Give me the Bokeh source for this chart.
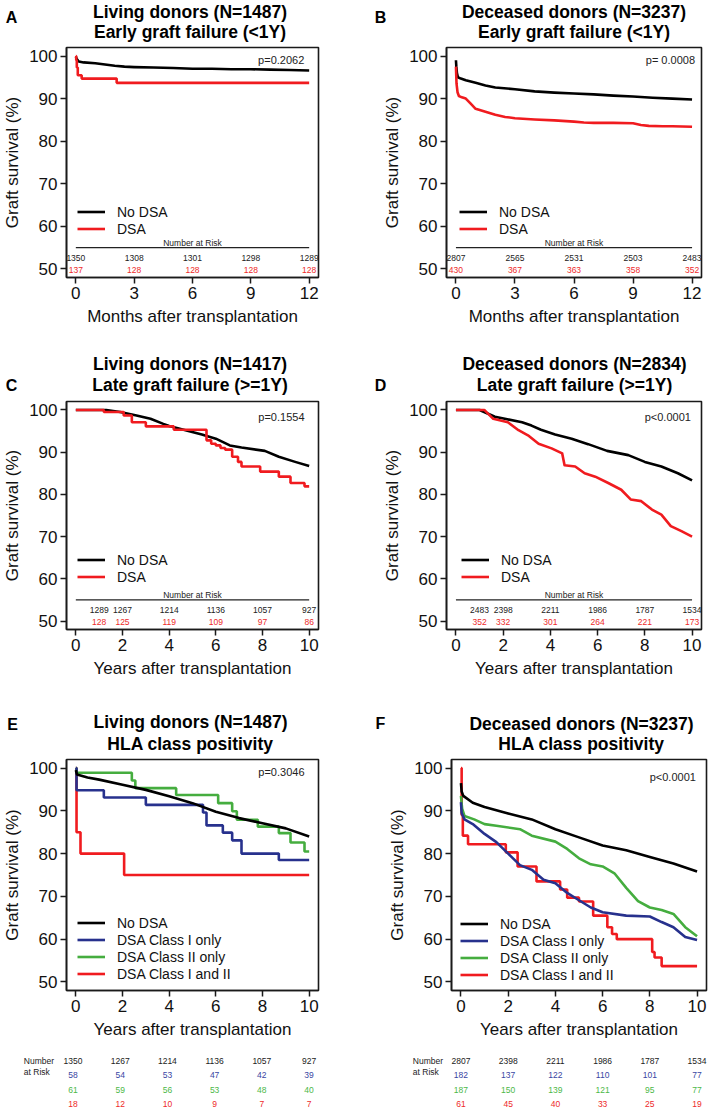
from bokeh.plotting import figure
from bokeh.models import Legend, LegendItem, FixedTicker, Range1d
from bokeh.layouts import column, row
from bokeh.embed import file_html
from bokeh.resources import INLINE
from bokeh.core.properties import value

FONT = "Liberation Sans"
C_BLACK = "#000000"
C_RED = "#f01b1f"
C_BLUE = "#27318d"
C_GREEN = "#45ad3f"
R_DARK = "#222222"
R_BLUE = "#3946a3"
R_GREEN = "#4cb848"
R_RED = "#ee2a2a"

# ---------------- data ----------------
Y_TICKS = [50, 60, 70, 80, 90, 100]
MONTHS = [0, 3, 6, 9, 12]
YEARS = [0, 2, 4, 6, 8, 10]

# Panel A: living donors, early graft failure (months)
a_nodsa_t = [0, 0.05, 0.15, 0.4, 1.0, 1.5, 2.0, 2.5, 3.0, 4.0, 5.0, 6.0, 7.0, 8.0, 9.0, 10.0, 11.0, 12.0]
a_nodsa_s = [99.8, 99.3, 98.7, 98.5, 98.3, 98.0, 97.7, 97.5, 97.4, 97.3, 97.2, 97.0, 97.0, 96.9, 96.9, 96.8, 96.7, 96.6]
a_dsa_t = [0, 0.02, 0.05, 0.1, 0.3, 2.1, 12.0]
a_dsa_s = [100, 99.0, 97.3, 95.5, 94.7, 93.7, 93.7]
a_risk_t = [0, 3, 6, 9, 12]
a_risk_nodsa = [1350, 1308, 1301, 1298, 1289]
a_risk_dsa = [137, 128, 128, 128, 128]

# Panel B: deceased donors, early graft failure (months)
b_nodsa_t = [0, 0.02, 0.05, 0.1, 0.25, 0.5, 1.0, 1.5, 2.0, 3.0, 4.0, 5.0, 6.0, 7.0, 8.0, 9.0, 10.0, 11.0, 12.0]
b_nodsa_s = [99.0, 97.5, 96.0, 95.0, 94.7, 94.3, 93.7, 93.1, 92.6, 92.2, 91.7, 91.4, 91.2, 91.0, 90.7, 90.5, 90.2, 90.0, 89.8]
b_dsa_t = [0, 0.03, 0.08, 0.15, 0.3, 0.5, 0.75, 1.0, 1.5, 2.0, 2.5, 3.0, 4.0, 5.0, 6.0, 6.5, 7.0, 8.0, 9.0, 9.4, 9.8, 10.5, 11.0, 12.0]
b_dsa_s = [97.5, 93.5, 91.5, 90.6, 90.3, 90.0, 88.8, 87.6, 86.9, 86.2, 85.7, 85.4, 85.1, 84.9, 84.6, 84.4, 84.3, 84.3, 84.2, 83.8, 83.6, 83.5, 83.5, 83.4]
b_risk_t = [0, 3, 6, 9, 12]
b_risk_nodsa = [2807, 2565, 2531, 2503, 2483]
b_risk_dsa = [430, 367, 363, 358, 352]

# Panel C: living donors, late graft failure (years)
c_nodsa_t = [0, 1.3, 1.9, 2.6, 3.2, 3.75, 4.0, 4.7, 5.4, 6.0, 6.6, 7.1, 8.1, 8.7, 9.4, 10.0]
c_nodsa_s = [100, 100, 99.5, 98.7, 97.9, 96.7, 96.2, 95.2, 94.2, 93.2, 91.6, 91.1, 90.3, 88.9, 87.7, 86.7]
c_dsa_t = [0, 1.2, 2.05, 2.4, 3.0, 4.2, 5.6, 5.8, 6.0, 6.2, 6.4, 6.7, 6.95, 7.1, 7.9, 8.7, 9.2, 9.8, 10.0]
c_dsa_s = [100, 99.5, 98.7, 97.1, 96.1, 95.3, 92.8, 92.0, 91.6, 91.0, 90.6, 88.9, 87.7, 86.6, 85.4, 84.2, 82.7, 81.9, 81.9]
c_risk_t = [1, 2, 4, 6, 8, 10]
c_risk_nodsa = [1289, 1267, 1214, 1136, 1057, 927]
c_risk_dsa = [128, 125, 119, 109, 97, 86]

# Panel D: deceased donors, late graft failure (years)
d_nodsa_t = [0, 1.0, 1.65, 2.07, 2.8, 3.2, 3.6, 4.2, 4.9, 5.6, 6.4, 7.3, 8.0, 8.7, 9.4, 10.0]
d_nodsa_s = [100, 100, 98.4, 97.9, 97.1, 96.3, 95.3, 94.2, 93.2, 91.9, 90.3, 89.3, 87.7, 86.6, 85.0, 83.3]
d_dsa_t = [0, 1.2, 1.58, 2.2, 2.65, 3.05, 3.5, 4.05, 4.5, 4.6, 5.05, 5.45, 5.9, 6.45, 7.0, 7.4, 7.85, 8.3, 8.7, 9.1, 9.55, 10.0]
d_dsa_s = [100, 100, 97.9, 97.1, 95.2, 94.0, 92.0, 90.9, 89.7, 86.9, 86.6, 85.0, 84.2, 82.7, 81.1, 78.8, 78.4, 76.4, 75.2, 72.5, 71.3, 70.0]
d_risk_t = [1, 2, 4, 6, 8, 10]
d_risk_nodsa = [2483, 2398, 2211, 1986, 1787, 1534]
d_risk_dsa = [352, 332, 301, 264, 221, 173]

# Panel E: living donors, HLA class positivity (years)
e_nodsa_t = [0, 0.05, 0.5, 1, 2, 3, 4, 5, 6, 7, 8, 9, 10]
e_nodsa_s = [99.5, 98.5, 97.8, 97.3, 96.1, 94.9, 93.4, 91.8, 89.8, 88.3, 87.1, 85.9, 84.0]
e_c1_t = [0, 0.03, 1.2, 3.0, 5.45, 5.6, 6.3, 6.7, 7.1, 8.7, 10.0]
e_c1_s = [100, 94.8, 93.1, 91.4, 89.6, 86.6, 84.9, 83.1, 80.0, 78.5, 78.5]
e_c2_t = [0, 0.03, 2.4, 2.55, 4.3, 6.1, 6.7, 6.9, 7.8, 8.7, 9.2, 9.8, 10.0]
e_c2_s = [100, 98.9, 97.1, 95.3, 93.7, 91.8, 89.9, 87.9, 86.3, 84.8, 82.6, 80.5, 80.5]
e_c12_t = [0, 0.03, 0.2, 2.07, 10.0]
e_c12_s = [100, 85.0, 80.0, 75.0, 75.0]
e_risk_t = [0, 2, 4, 6, 8, 10]
e_risk_nodsa = [1350, 1267, 1214, 1136, 1057, 927]
e_risk_c1 = [58, 54, 53, 47, 42, 39]
e_risk_c2 = [61, 59, 56, 53, 48, 40]
e_risk_c12 = [18, 12, 10, 9, 7, 7]

# Panel F: deceased donors, HLA class positivity (years)
f_nodsa_t = [0, 0.03, 0.1, 0.5, 1, 2, 3, 4, 5, 6, 7, 8, 9, 10]
f_nodsa_s = [96.5, 94.5, 93.5, 91.9, 90.9, 89.4, 88.0, 85.7, 83.8, 81.9, 80.8, 79.2, 77.7, 75.8]
f_c1_t = [0, 0.03, 0.15, 0.5, 1, 1.5, 2, 2.5, 3, 3.5, 4, 4.5, 5, 5.5, 6, 7, 8, 8.5, 9, 9.5, 10]
f_c1_s = [92.0, 89.5, 88.0, 86.9, 84.6, 82.7, 80.0, 77.3, 76.2, 73.9, 73.1, 70.8, 69.1, 67.4, 66.3, 65.5, 65.3, 64.0, 62.8, 60.5, 59.8]
f_c2_t = [0, 0.05, 0.15, 0.56, 1, 1.5, 2.5, 3, 4, 4.5, 5, 5.5, 6, 6.5, 7, 7.5, 8, 8.5, 9, 9.5, 10]
f_c2_s = [93.5, 90.5, 88.8, 88.0, 86.9, 86.5, 85.7, 84.2, 82.8, 81.1, 78.9, 77.5, 77.0, 75.4, 72.0, 68.9, 67.4, 66.8, 65.9, 62.8, 60.7]
f_c12_t = [0, 0.03, 0.08, 0.3, 1.9, 2.4, 3.2, 4.2, 4.5, 5.0, 5.6, 6.2, 6.4, 6.6, 8.1, 8.2, 8.5, 10.0]
f_c12_s = [100, 89.0, 84.2, 82.2, 80.3, 77.0, 73.5, 71.6, 69.7, 68.8, 65.5, 62.8, 61.2, 60.0, 57.0, 55.7, 53.7, 53.7]
f_risk_t = [0, 2, 4, 6, 8, 10]
f_risk_nodsa = [2807, 2398, 2211, 1986, 1787, 1534]
f_risk_c1 = [182, 137, 122, 110, 101, 77]
f_risk_c2 = [187, 150, 139, 121, 95, 77]
f_risk_c12 = [61, 45, 40, 33, 25, 19]

# ---------------- layout geometry (pixels) ----------------
FW = 255
Y0, Y1 = 48, 102


def txt(p, x, y, s, size, color="#111111", bold=False, align="center"):
    p.text(x=[x], y=[y], text=[s], text_font=value(FONT), text_font_size=size,
           text_font_style="bold" if bold else "normal", text_color=color,
           text_align=align, text_baseline="middle")


def blank_fig(width, height, xr, yr):
    p = figure(width=width, height=height, output_backend="svg", toolbar_location=None,
               x_range=Range1d(*xr), y_range=Range1d(*yr),
               x_axis_type=None, y_axis_type=None,
               min_border_left=0, min_border_right=0, min_border_top=0, min_border_bottom=0)
    p.grid.visible = False
    p.outline_line_color = None
    p.background_fill_color = "white"
    p.border_fill_color = "white"
    return p


def header(width, height, letter, lxy, lines, tx, tys):
    # pixel coordinates measured from the top-left corner of the header strip
    h = blank_fig(width, height, (0, width), (height, 0))
    txt(h, lxy[0], lxy[1], letter, "16px", color="#000000", bold=True)
    for line, ty in zip(lines, tys):
        txt(h, tx, ty, line, "17.5px", color="#000000", bold=True)
    return h


def make_fig(width, height, bl, bt, fh, xr, xticks, xlabel):
    p = figure(width=width, height=height, output_backend="svg", toolbar_location=None,
               x_range=Range1d(*xr), y_range=Range1d(Y0, Y1),
               min_border_left=bl, min_border_right=width - bl - FW,
               min_border_top=bt, min_border_bottom=height - bt - fh)
    p.grid.visible = False
    p.outline_line_color = "#1a1a1a"
    p.outline_line_width = 1.6
    p.background_fill_color = "white"
    p.border_fill_color = "white"
    for ax in (p.xaxis[0], p.yaxis[0]):
        ax.axis_line_color = "#1a1a1a"
        ax.axis_line_width = 1.6
        ax.major_tick_line_color = "#1a1a1a"
        ax.major_tick_line_width = 1.5
        ax.major_tick_in = 0
        ax.major_tick_out = 6
        ax.minor_tick_line_color = None
        ax.major_label_text_font = FONT
        ax.major_label_text_font_size = "17px"
        ax.major_label_text_color = "#111111"
        ax.axis_label_text_font = FONT
        ax.axis_label_text_font_size = "17px"
        ax.axis_label_text_font_style = "normal"
        ax.axis_label_text_color = "#111111"
    p.xaxis.ticker = FixedTicker(ticks=xticks)
    p.yaxis.ticker = FixedTicker(ticks=Y_TICKS)
    p.xaxis.major_label_standoff = 3
    p.xaxis.axis_label_standoff = 5
    p.xaxis.axis_label = xlabel
    p.yaxis.axis_label = "Graft survival (%)"
    p.yaxis.major_label_standoff = 3
    p.yaxis.axis_label_standoff = 4
    return p


def add_legend(p, items, loc):
    leg = Legend(items=[LegendItem(label=lab, renderers=[r]) for lab, r in items],
                 location=loc, orientation="vertical",
                 glyph_width=28, glyph_height=17, label_height=17, label_width=10,
                 label_standoff=12, spacing=0, padding=0, margin=0,
                 background_fill_alpha=0, border_line_alpha=0,
                 label_text_font=FONT, label_text_font_size="14px",
                 label_text_color="#111111")
    p.add_layout(leg)


def curve(p, t, s, color, step):
    if step:
        return p.step(t, s, mode="after", line_color=color, line_width=2.6)
    return p.line(t, s, line_color=color, line_width=2.6, line_join="round")


def inner_risk(p, xticks, times, n_nodsa, n_dsa):
    p.line([xticks[0], xticks[-1]], [55.0, 55.0], line_color="#222222", line_width=1.3)
    txt(p, (xticks[0] + xticks[-1]) / 2, 56.2, "Number at Risk", "8.5px", color=R_DARK)
    p.text(x=times, y=[52.6] * len(times), text=[str(v) for v in n_nodsa],
           text_font=value(FONT), text_font_size="8.5px", text_color=R_DARK,
           text_align="center", text_baseline="middle")
    p.text(x=times, y=[49.7] * len(times), text=[str(v) for v in n_dsa],
           text_font=value(FONT), text_font_size="8.5px", text_color=R_RED,
           text_align="center", text_baseline="middle")


def outer_risk(width, height, bl, xr, times, rows, colors, head_x, row_y):
    # strip below the panel; its x axis continues the panel's data range
    upp = (xr[1] - xr[0]) / FW
    br = width - bl - FW
    rx = (xr[0] - bl * upp, xr[1] + br * upp)
    r = blank_fig(width, height, rx, (height, 0))
    hx = rx[0] + head_x * upp
    txt(r, hx, row_y[0], "Number", "8.5px", color=R_DARK, align="left")
    txt(r, hx, row_y[0] + 11, "at Risk", "8.5px", color=R_DARK, align="left")
    for vals, col, ry in zip(rows, colors, row_y):
        r.text(x=times, y=[ry] * len(times), text=[str(v) for v in vals],
               text_font=value(FONT), text_font_size="8.5px", text_color=col,
               text_align="center", text_baseline="middle")
    return r


XR_M = (-0.48, 12.48)
XR_Y = (-0.4, 10.4)

# ---------------- row 1: A, B ----------------
hA = header(354, 44, "A", (11, 16.7), ["Living donors (N=1487)", "Early graft failure (<1Y)"], 189.5, [11.7, 31.7])
hB = header(355, 44, "B", (26, 16.7), ["Deceased donors (N=3237)", "Early graft failure (<1Y)"], 219.5, [11.7, 31.7])

pA = make_fig(354, 296, 63, 3, 230, XR_M, MONTHS, "Months after transplantation")
rA1 = curve(pA, a_nodsa_t, a_nodsa_s, C_BLACK, False)
rA2 = curve(pA, a_dsa_t, a_dsa_s, C_RED, True)
inner_risk(pA, MONTHS, a_risk_t, a_risk_nodsa, a_risk_dsa)
add_legend(pA, [("No DSA", rA1), ("DSA", rA2)], (11, 40))
txt(pA, 11.75, 99.1, "p=0.2062", "11px", color=R_DARK, align="right")

pB = make_fig(355, 296, 92, 3, 230, XR_M, MONTHS, "Months after transplantation")
rB1 = curve(pB, b_nodsa_t, b_nodsa_s, C_BLACK, False)
rB2 = curve(pB, b_dsa_t, b_dsa_s, C_RED, False)
inner_risk(pB, MONTHS, b_risk_t, b_risk_nodsa, b_risk_dsa)
add_legend(pB, [("No DSA", rB1), ("DSA", rB2)], (13, 40))
txt(pB, 12.15, 99.1, "p= 0.0008", "11px", color=R_DARK, align="right")

# ---------------- row 2: C, D ----------------
hC = header(354, 57, "C", (11, 45), ["Living donors (N=1417)", "Late graft failure (>=1Y)"], 189.5, [23.3, 44])
hD = header(355, 57, "D", (26, 45), ["Deceased donors (N=2834)", "Late graft failure (>=1Y)"], 220, [23.3, 44])

pC = make_fig(354, 283, 63, 4, 230, XR_Y, YEARS, "Years after transplantation")
rC1 = curve(pC, c_nodsa_t, c_nodsa_s, C_BLACK, False)
rC2 = curve(pC, c_dsa_t, c_dsa_s, C_RED, True)
inner_risk(pC, YEARS, c_risk_t, c_risk_nodsa, c_risk_dsa)
add_legend(pC, [("No DSA", rC1), ("DSA", rC2)], (11, 44))
txt(pC, 9.8, 98.3, "p=0.1554", "11px", color=R_DARK, align="right")

pD = make_fig(355, 283, 92, 4, 230, XR_Y, YEARS, "Years after transplantation")
rD1 = curve(pD, d_nodsa_t, d_nodsa_s, C_BLACK, False)
rD2 = curve(pD, d_dsa_t, d_dsa_s, C_RED, False)
inner_risk(pD, YEARS, d_risk_t, d_risk_nodsa, d_risk_dsa)
add_legend(pD, [("No DSA", rD1), ("DSA", rD2)], (15, 44))
txt(pD, 9.95, 98.3, "p<0.0001", "11px", color=R_DARK, align="right")

# ---------------- row 3: E, F ----------------
hE = header(354, 75, "E", (12, 43.5), ["Living donors (N=1487)", "HLA class positivity"], 190, [41.7, 63])
hF = header(355, 75, "F", (26, 43), ["Deceased donors (N=3237)", "HLA class positivity"], 227, [43.3, 63.7])

pE = make_fig(354, 290, 63, 4, 231, XR_Y, YEARS, "Years after transplantation")
rE4 = curve(pE, e_c12_t, e_c12_s, C_RED, True)
rE3 = curve(pE, e_c2_t, e_c2_s, C_GREEN, True)
rE2 = curve(pE, e_c1_t, e_c1_s, C_BLUE, True)
rE1 = curve(pE, e_nodsa_t, e_nodsa_s, C_BLACK, False)
add_legend(pE, [("No DSA", rE1), ("DSA Class I only", rE2),
                ("DSA Class II only", rE3), ("DSA Class I and II", rE4)], (11, 8))
txt(pE, 9.8, 99.0, "p=0.3046", "11px", color=R_DARK, align="right")

pF = make_fig(355, 290, 97, 1, 236, XR_Y, YEARS, "Years after transplantation")
rF4 = curve(pF, f_c12_t, f_c12_s, C_RED, True)
rF3 = curve(pF, f_c2_t, f_c2_s, C_GREEN, False)
rF2 = curve(pF, f_c1_t, f_c1_s, C_BLUE, False)
rF1 = curve(pF, f_nodsa_t, f_nodsa_s, C_BLACK, False)
add_legend(pF, [("No DSA", rF1), ("DSA Class I only", rF2),
                ("DSA Class II only", rF3), ("DSA Class I and II", rF4)], (9, 7))
txt(pF, 9.95, 98.0, "p<0.0001", "11px", color=R_DARK, align="right")

RISK_ROWS_Y = [15, 29.3, 44, 58.5]
kE = outer_risk(354, 64, 63, XR_Y, e_risk_t, [e_risk_nodsa, e_risk_c1, e_risk_c2, e_risk_c12],
                [R_DARK, R_BLUE, R_GREEN, R_RED], 23.3, RISK_ROWS_Y)
kF = outer_risk(355, 64, 97, XR_Y, f_risk_t, [f_risk_nodsa, f_risk_c1, f_risk_c2, f_risk_c12],
                [R_DARK, R_BLUE, R_GREEN, R_RED], 58.3, RISK_ROWS_Y)

layout = column(
    row(hA, hB, spacing=0), row(pA, pB, spacing=0),
    row(hC, hD, spacing=0), row(pC, pD, spacing=0),
    row(hE, hF, spacing=0), row(pE, pF, spacing=0),
    row(kE, kF, spacing=0),
    spacing=0)
open("out.html", "w").write(file_html(layout, INLINE))
